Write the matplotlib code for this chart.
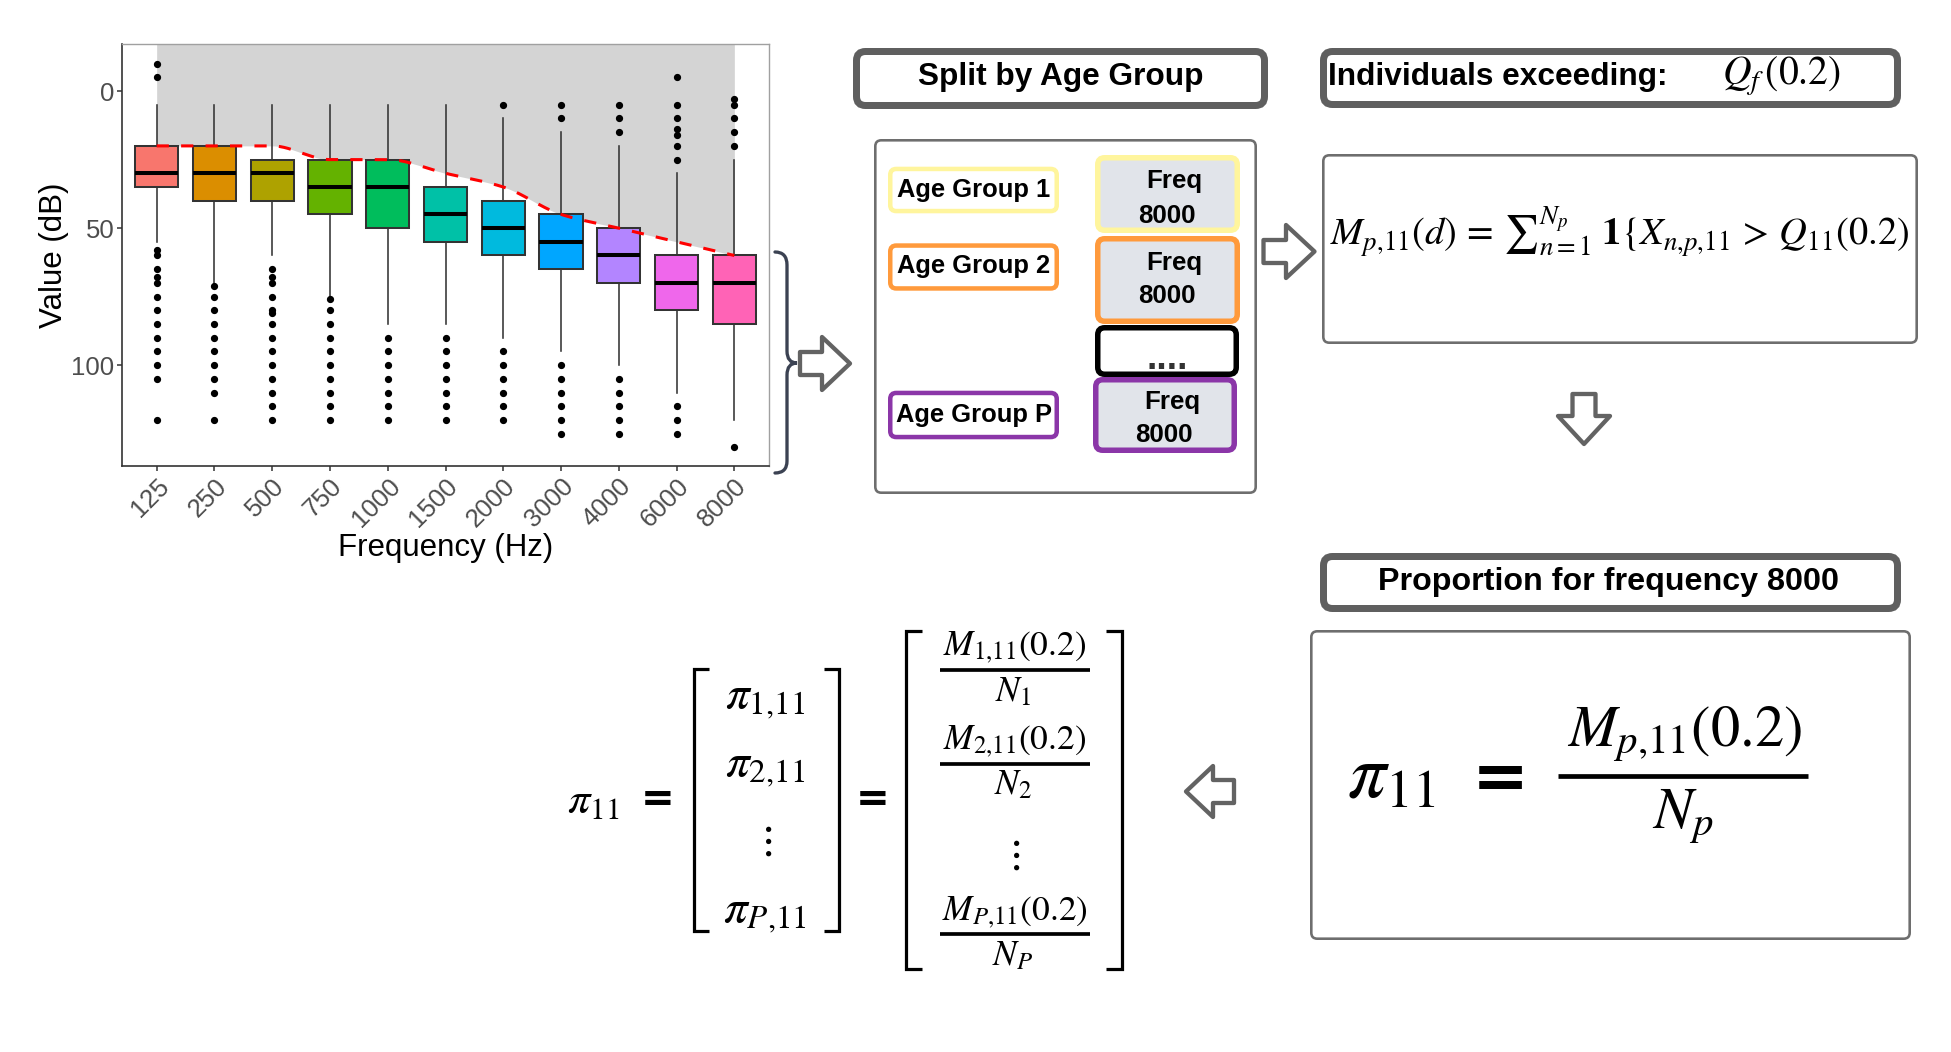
import numpy as np
import matplotlib
matplotlib.use("Agg")
import matplotlib.pyplot as plt
from matplotlib.patches import FancyBboxPatch, Polygon, PathPatch
from matplotlib.path import Path

# ---------------------------------------------------------------- data
freq_labels = ["125", "250", "500", "750", "1000", "1500", "2000",
               "3000", "4000", "6000", "8000"]
box_colors = ["#F8766D", "#DB8E00", "#AEA200", "#64B200", "#00BD5C", "#00C1A7",
              "#00BADE", "#00A6FF", "#B385FF", "#EF67EB", "#FF63B6"]
q1 = [20, 20, 25, 25, 25, 35, 40, 45, 50, 60, 60]
medians = [30, 30, 30, 35, 35, 45, 50, 55, 60, 70, 70]
q3 = [35, 40, 40, 45, 50, 55, 60, 65, 70, 80, 85]
whisker_top = [5, 5, 5, 5, 5, 5, 10, 15, 20, 30, 25]
whisker_bottom = [55, 70, 60, 75, 85, 85, 90, 95, 100, 110, 120]
outliers = [
    [-10, -5, 58, 60, 65, 68, 70, 75, 80, 85, 90, 95, 100, 105, 120],
    [71, 75, 80, 85, 90, 95, 100, 105, 110, 120],
    [65, 68, 70, 75, 80, 81, 85, 90, 95, 100, 105, 110, 115, 120],
    [76, 80, 85, 90, 95, 100, 105, 110, 115, 120],
    [90, 95, 100, 105, 110, 115, 120],
    [90, 95, 100, 105, 110, 115, 120],
    [5, 95, 100, 105, 110, 115, 120],
    [5, 10, 100, 105, 110, 115, 120, 125],
    [5, 10, 15, 105, 110, 115, 120, 125],
    [-5, 5, 10, 14, 16, 20, 25, 115, 120, 125],
    [3, 5, 10, 15, 20, 130],
]
quantile_20 = [20, 20, 20, 25, 25, 30, 35, 45, 50, 55, 60]
y_ticks = [0, 50, 100]

age_groups = ["Age Group 1", "Age Group 2", "Age Group P"]
age_colors = ["#FFF59D", "#FF9A3C", "#8B36A8"]

# ---------------------------------------------------------------- setup
W, H, DPI = 1951, 1052, 100
PT = 72.0 / DPI   # points per pixel

plt.rcParams["font.family"] = ["Liberation Sans", "DejaVu Sans"]
plt.rcParams["mathtext.fontset"] = "stix"

fig = plt.figure(figsize=(W / DPI, H / DPI), dpi=DPI, facecolor="white")

# full-figure layer in pixel coordinates (y grows downward)
ov = fig.add_axes([0, 0, 1, 1], zorder=0)
ov.set_xlim(0, W)
ov.set_ylim(H, 0)
ov.axis("off")


def pchip_curve(x, y, n=400):
    """Monotone cubic (PCHIP) curve through the given points."""
    x = np.asarray(x, float)
    y = np.asarray(y, float)
    h = np.diff(x)
    d = np.diff(y) / h
    m = np.zeros_like(y)
    for k in range(1, len(x) - 1):
        if d[k - 1] * d[k] > 0:
            w1 = 2 * h[k] + h[k - 1]
            w2 = h[k] + 2 * h[k - 1]
            m[k] = (w1 + w2) / (w1 / d[k - 1] + w2 / d[k])
    m[0], m[-1] = d[0], d[-1]
    xs = np.linspace(x[0], x[-1], n)
    i = np.clip(np.searchsorted(x, xs, side="right") - 1, 0, len(x) - 2)
    t = (xs - x[i]) / h[i]
    h00 = 2 * t**3 - 3 * t**2 + 1
    h10 = t**3 - 2 * t**2 + t
    h01 = -2 * t**3 + 3 * t**2
    h11 = t**3 - t**2
    ys = h00 * y[i] + h10 * h[i] * m[i] + h01 * y[i + 1] + h11 * h[i] * m[i + 1]
    return xs, ys


# ---------------------------------------------------------------- boxplot
L, R, T, B = 122, 769, 44.5, 466.5
ax = fig.add_axes([L / W, 1 - B / H, (R - L) / W, (B - T) / H], zorder=2)

positions = np.arange(1, len(freq_labels) + 1)
stats = []
for i in range(len(freq_labels)):
    stats.append(dict(med=medians[i], q1=q1[i], q3=q3[i],
                      whislo=whisker_top[i], whishi=whisker_bottom[i],
                      fliers=outliers[i]))

bp = ax.bxp(stats, positions=positions, widths=0.75, patch_artist=True,
            showcaps=False,
            boxprops=dict(edgecolor="#333333", linewidth=1.45),
            whiskerprops=dict(color="#333333", linewidth=1.15),
            medianprops=dict(color="black", linewidth=2.9),
            flierprops=dict(marker="o", markerfacecolor="black",
                            markeredgecolor="black", markersize=4.2))
for patch, c in zip(bp["boxes"], box_colors):
    patch.set_facecolor(c)
    patch.set_zorder(2)

all_vals = np.concatenate([np.concatenate(outliers), whisker_top, whisker_bottom])
lo, hi = all_vals.min(), all_vals.max()
pad = 0.05 * (hi - lo)
ax.set_ylim(hi + pad, lo - pad)
ax.set_xlim(0.4, len(freq_labels) + 0.6)

xs, ys = pchip_curve(positions, quantile_20)
ax.fill_between(xs, ys, lo - pad, color="#D4D4D4", linewidth=0, zorder=0.5)
ax.plot(xs, ys, color="#FF0000", linewidth=2.2, linestyle=(0, (4, 4)), zorder=4)

ax.set_xticks(positions, freq_labels, rotation=45, ha="right",
              rotation_mode="anchor")
ax.set_yticks(y_ticks)
ax.tick_params(axis="both", length=3.6, width=1.1, color="#333333",
               labelsize=18.5, labelcolor="#4D4D4D", pad=2)
for s in ("left", "bottom"):
    ax.spines[s].set_color("#333333")
    ax.spines[s].set_linewidth(1.2)
for s in ("top", "right"):
    ax.spines[s].set_color("#A0A0A0")
    ax.spines[s].set_linewidth(1.0)
ax.set_ylabel("Value (dB)", fontsize=22.5, color="black")
ax.set_xlabel("Frequency (Hz)", fontsize=22.5, color="black")
ax.yaxis.set_label_coords(-0.082, 0.5)
ax.xaxis.set_label_coords(0.5, -0.158)

# ---------------------------------------------------------------- helpers
def rbox(x0, y0, x1, y1, lw_px, ec, fc="white", r=7, z=1):
    """Rounded box whose outer edge (stroke included) is (x0, y0)-(x1, y1)."""
    h = lw_px / 2.0
    p = FancyBboxPatch((x0 + h, y0 + h), (x1 - x0) - lw_px, (y1 - y0) - lw_px,
                       boxstyle=f"round,pad=0,rounding_size={r}",
                       linewidth=lw_px * PT, edgecolor=ec, facecolor=fc,
                       zorder=z)
    ov.add_patch(p)


def hollow_arrow(cx, cy, length, width, direction, tail_half=11.5, neck=-3):
    """Outlined block arrow centred on (cx, cy)."""
    a, w = length / 2.0, width / 2.0
    pts = np.array([(-a, -tail_half), (neck, -tail_half), (neck, -w), (a, 0),
                    (neck, w), (neck, tail_half), (-a, tail_half)])
    ca, sa = {"right": (1, 0), "left": (-1, 0), "down": (0, 1)}[direction]
    xy = np.column_stack([cx + pts[:, 0] * ca - pts[:, 1] * sa,
                          cy + pts[:, 0] * sa + pts[:, 1] * ca])
    ov.add_patch(Polygon(xy, closed=True, facecolor="white", edgecolor="#636363",
                         linewidth=4.3 * PT, joinstyle="round", zorder=3))


def bracket(x, y0, y1, tick, lw_px=3.2):
    ov.plot([x + tick, x, x, x + tick], [y0, y0, y1, y1], color="black",
            linewidth=lw_px * PT, solid_joinstyle="miter",
            solid_capstyle="butt", zorder=3)


def frac_bar(x0, x1, y, lw_px):
    ov.plot([x0, x1], [y, y], color="black", linewidth=lw_px * PT,
            solid_capstyle="butt", zorder=3)


bold = dict(fontweight="bold", color="black", family="Liberation Sans")

# ---------------------------------------------------------------- curly brace
brace = Path([(775, 252), (787, 252), (787, 265), (787, 351), (787, 363),
              (797, 363), (787, 363), (787, 375), (787, 461), (787, 473),
              (775, 473)],
             [Path.MOVETO, Path.CURVE3, Path.CURVE3, Path.LINETO, Path.CURVE3,
              Path.CURVE3, Path.CURVE3, Path.CURVE3, Path.LINETO, Path.CURVE3,
              Path.CURVE3])
ov.add_patch(PathPatch(brace, facecolor="none", edgecolor="#3B4252",
                       linewidth=3.3 * PT, capstyle="round", zorder=3))

hollow_arrow(825, 363.5, 50, 53, "right")
hollow_arrow(1289, 251.5, 51, 53, "right")
hollow_arrow(1584, 419, 50, 52, "down")
hollow_arrow(1210, 791.5, 48, 51, "left")

# ---------------------------------------------------------------- header boxes
rbox(853, 48, 1268, 109, 7, "#5F5F5F", r=9)
ov.text(1061, 85, "Split by Age Group", fontsize=22.8, ha="center",
        va="baseline", **bold)

rbox(1320, 48, 1901, 108, 7, "#5F5F5F", r=9)
ov.text(1328, 85, "Individuals exceeding:", fontsize=22.8, ha="left",
        va="baseline", **bold)
ov.text(1722, 85, r"$Q_f\,(0.2)$", fontsize=28.5, ha="left", va="baseline")

rbox(1320, 553, 1901, 612, 7, "#5F5F5F", r=9)
ov.text(1609, 590, "Proportion for frequency 8000", fontsize=23.2,
        ha="center", va="baseline", **bold)

# ---------------------------------------------------------------- age group panel
rbox(874, 139, 1257, 494, 2.6, "#6E6E6E", r=6)

ag_boxes = [(166.7, 213.3), (243.3, 290.7), (390.7, 439.3)]
ag_base = [196.7, 273.3, 421.7]
for name, c, (y0, y1), yb in zip(age_groups, age_colors, ag_boxes, ag_base):
    rbox(888, y0, 1059, y1, 4.5, c, r=6, z=2)
    ov.text(974, yb, name, fontsize=18.4, ha="center", va="baseline", **bold)

freq_boxes = [(1095, 155, 1240, 233), (1095, 236, 1240, 324),
              (1093, 377, 1237, 453)]
freq_base = [(188.3, 223.3), (270, 303.3), (409.3, 441.7)]
for c, (x0, y0, x1, y1), (b1, b2) in zip(age_colors, freq_boxes, freq_base):
    rbox(x0, y0, x1, y1, 5.5, c, fc="#E1E4EA", r=7, z=2)
    xc = (x0 + x1) / 2
    ov.text(xc + 7, b1, "Freq", fontsize=18.6, ha="center", va="baseline", **bold)
    ov.text(xc - 1, b2, "8000", fontsize=18.6, ha="center", va="baseline", **bold)
rbox(1095, 325, 1239, 377, 5.5, "black", r=7, z=2)
ov.text(1167, 369, "....", fontsize=27, ha="center", va="baseline",
        fontweight="bold", color="#333333", family="Liberation Sans")

# ---------------------------------------------------------------- count formula
rbox(1322, 154, 1918, 344, 2.6, "#6E6E6E", r=6)
ov.text(1620, 232,
        r"$M_{p{,}11}(d)\,=\,{\sum}_{n=1}^{N_p}\;\mathbf{1}\{X_{n{,}p{,}11}\,>\,Q_{11}(0.2)$",
        fontsize=27.7, ha="center", va="center")

# ---------------------------------------------------------------- proportion box
rbox(1310, 630, 1911, 940, 2.6, "#6E6E6E", r=6)
ov.text(1347, 797, r"$\pi_{11}$", fontsize=55, ha="left", va="baseline")
ov.text(1500, 780, "=", fontsize=49, ha="center", va="center",
        fontweight="bold", family="DejaVu Sans")
ov.text(1684, 746, r"$M_{p{,}11}(0.2)$", fontsize=42, ha="center", va="baseline")
frac_bar(1558, 1808, 775.5, 4.7)
ov.text(1683, 828, r"$N_p$", fontsize=42, ha="center", va="baseline")

# ---------------------------------------------------------------- vector form
ov.text(567, 813, r"$\pi_{11}$", fontsize=32, ha="left", va="baseline")
ov.text(658, 800, "=", fontsize=29, ha="center", va="center",
        fontweight="bold", family="DejaVu Sans")
bracket(693.5, 669, 931, 15)
bracket(839, 669, 931, -15)
for txt, yb in [(r"$\pi_{1{,}11}$", 708), (r"$\pi_{2{,}11}$", 776),
                (r"$\pi_{P{,}11}$", 922)]:
    ov.text(765, yb, txt, fontsize=34, ha="center", va="baseline")
ov.text(765, 841, r"$\vdots$", fontsize=30, ha="center", va="center")

ov.text(872.5, 800, "=", fontsize=29, ha="center", va="center",
        fontweight="bold", family="DejaVu Sans")
bracket(906, 630.5, 969, 16)
bracket(1122, 630.5, 969, -16)
fracs = [(r"$M_{1{,}11}(0.2)$", r"$N_1$", 669.7),
         (r"$M_{2{,}11}(0.2)$", r"$N_2$", 763.5),
         (r"$M_{P{,}11}(0.2)$", r"$N_P$", 934.4)]
for num, den, yb in fracs:
    ov.text(1015, yb - 14, num, fontsize=25.5, ha="center", va="baseline")
    frac_bar(940, 1090, yb, 3.7)
    ov.text(1013, yb + 31, den, fontsize=25.5, ha="center", va="baseline")
ov.text(1013, 855, r"$\vdots$", fontsize=30, ha="center", va="center")

fig.savefig("out.png", dpi=DPI, facecolor="white")
